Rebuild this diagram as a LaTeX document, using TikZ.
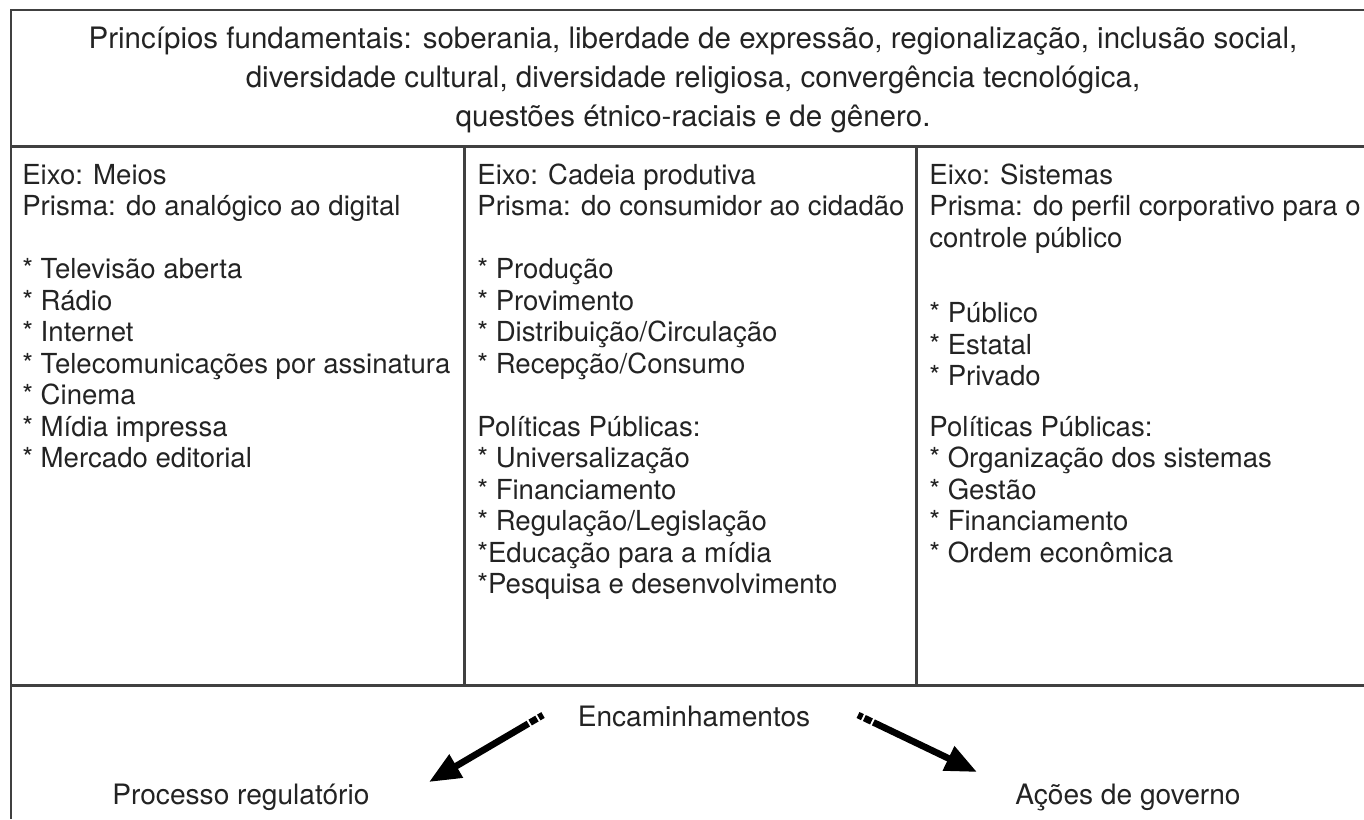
\documentclass[tikz,border=0pt]{standalone}
\usepackage{fontspec}
\setmainfont{TeX Gyre Heros}
\usetikzlibrary{arrows.meta}
\definecolor{rulegray}{RGB}{64,64,64}
\definecolor{inkgray}{RGB}{35,35,35}

\begin{document}
\begin{tikzpicture}[x=0.02cm,y=-0.02cm,
    rule/.style={draw=rulegray, line width=1.7pt},
    txt/.style={anchor=base west, inner sep=0pt, text=inkgray, font=\fontsize{16}{19}\selectfont},
    coltxt/.style={txt, font=\fontsize{15.7}{19}\selectfont},
    ctxt/.style={txt, anchor=base},
    htxt/.style={ctxt, font=\fontsize{16.8}{20}\selectfont},
    bigarrow/.style={draw=black, line width=3.8pt, -{Triangle[length=18pt,width=14.5pt]},
        dash pattern=on 2.8pt off 1.2pt on 4.5pt off 1.2pt on 400pt}]
    \useasboundingbox (0,0) rectangle (1364,819);

    % frame and columns
    \draw[rule] (1364,10) -- (11,10) -- (11,819);
    \draw[rule] (11,146) -- (1364,146);
    \draw[rule] (11,685) -- (1364,685);
    \draw[rule] (464,146) -- (464,685);
    \draw[rule] (916,146) -- (916,685);

    % header
    \node[htxt] (h1) at (693,48) {Princípios fundamentais: soberania, liberdade de expressão, regionalização, inclusão social,};
    \node[htxt] (h2) at (693,87) {diversidade cultural, diversidade religiosa, convergência tecnológica,};
    \node[htxt] (h3) at (693,126) {questões étnico-raciais e de gênero.};

    % eixo: meios
    \foreach \r/\t in {0/Eixo: Meios, 1/Prisma: do analógico ao digital,
        3/* Televisão aberta, 4/* Rádio, 5/* Internet,
        6/* Telecomunicações por assinatura, 7/* Cinema,
        8/* Mídia impressa, 9/* Mercado editorial}
        \node[coltxt] (a\r) at (22,{184+31.5*\r}) {\t};

    % eixo: cadeia produtiva
    \foreach \r/\t in {0/Eixo: Cadeia produtiva, 1/Prisma: do consumidor ao cidadão,
        3/* Produção, 4/* Provimento, 5/{* Distribuição/Circulação},
        6/{* Recepção/Consumo}, 8/Políticas Públicas:,
        9/* Universalização, 10/* Financiamento, 11/{* Regulação/Legislação},
        12/*Educação para a mídia, 13/*Pesquisa e desenvolvimento}
        \node[coltxt] (b\r) at (477,{184+31.5*\r}) {\t};

    % eixo: sistemas
    \foreach \r/\t in {0/Eixo: Sistemas, 1/Prisma: do perfil corporativo para o,
        2/controle público, 4.4/* Público, 5.4/* Estatal, 6.4/* Privado,
        8/Políticas Públicas:, 9/* Organização dos sistemas,
        10/* Gestão, 11/* Financiamento, 12/* Ordem econômica}
        \node[coltxt] (c\r) at (929,{184+31.5*\r}) {\t};

    % encaminhamentos
    \node[ctxt] (enc) at (694,726) {Encaminhamentos};
    \node[txt] (reg) at (112,804) {Processo regulatório};
    \node[txt] (gov) at (1015,804) {Ações de governo};

    \coordinate (lt) at (543,715);
    \coordinate (lh) at (429,782);
    \coordinate (rt) at (858,715);
    \coordinate (rh) at (977,772);
    \draw[bigarrow] (lt) -- (lh);
    \draw[bigarrow] (rt) -- (rh);
\end{tikzpicture}
\end{document}
